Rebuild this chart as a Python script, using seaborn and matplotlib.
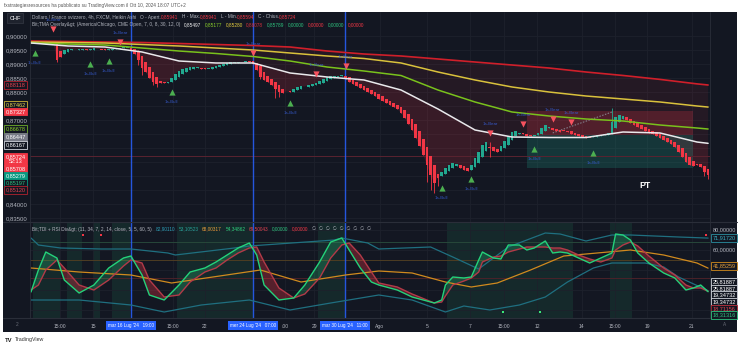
import numpy as np
import pandas as pd
import matplotlib
matplotlib.use("Agg")
import matplotlib.pyplot as plt
import matplotlib.transforms as mtransforms
from matplotlib.patches import Rectangle
from matplotlib.lines import Line2D
import seaborn as sns

# ------------------------------------------------------------------ data
ha_open0 = 0.89760
ha_close = [
    0.89750, 0.89786, 0.89804, 0.89821, 0.89839, 0.89804, 0.89786, 0.89143, 0.89250, 0.89500,
    0.89536, 0.89518, 0.89500, 0.89518, 0.89536, 0.89500, 0.89518, 0.89554, 0.89536, 0.89518,
    0.89500, 0.89518, 0.89536, 0.89571, 0.89589, 0.89607, 0.89589, 0.89500, 0.89357, 0.89143,
    0.88857, 0.88714, 0.88500, 0.88357, 0.88286, 0.88321, 0.88304, 0.88357, 0.88500, 0.88643,
    0.88750, 0.88821, 0.88857, 0.88875, 0.88893, 0.88875, 0.88839, 0.88821, 0.88839, 0.88893,
    0.88929, 0.88964, 0.89000, 0.89036, 0.89071, 0.89054, 0.89071, 0.89089, 0.89107, 0.89089,
    0.89000, 0.88786, 0.88536, 0.88429, 0.88357, 0.88250, 0.88107, 0.88000, 0.87982, 0.88018,
    0.88000, 0.88107, 0.88161, 0.88214, 0.88196, 0.88250, 0.88286, 0.88304, 0.88393, 0.88464,
    0.88518, 0.88554, 0.88571, 0.88589, 0.88607, 0.88464, 0.88357, 0.88286, 0.88214, 0.88143,
    0.88071, 0.88000, 0.87929, 0.87857, 0.87750, 0.87679, 0.87607, 0.87536, 0.87464, 0.87393,
    0.87250, 0.87071, 0.86857, 0.86643, 0.86357, 0.86071, 0.85750, 0.85393, 0.85036, 0.84750,
    0.84929, 0.85143, 0.85286, 0.85393, 0.85464, 0.85429, 0.85286, 0.85214, 0.85179, 0.85393,
    0.85643, 0.85857, 0.86107, 0.86214, 0.86000, 0.85893, 0.85857, 0.86071, 0.86250, 0.86429,
    0.86571, 0.86607, 0.86536, 0.86500, 0.86446, 0.86429, 0.86464, 0.86536, 0.86714, 0.86821,
    0.86750, 0.86643, 0.86607, 0.86589, 0.86607, 0.86571, 0.86500, 0.86464, 0.86429, 0.86393,
    0.86357, 0.86375, 0.86429, 0.86464, 0.86482, 0.86500, 0.86536, 0.86929, 0.87107, 0.87179,
    0.87143, 0.87000, 0.86893, 0.86821, 0.86750, 0.86679, 0.86607, 0.86536, 0.86500, 0.86429,
    0.86357, 0.86286, 0.86214, 0.86143, 0.86036, 0.85857, 0.85679, 0.85500, 0.85393, 0.85357,
    0.85393, 0.85321, 0.85143, 0.85036,
]
wick_idx = [7, 29, 30, 33, 34, 62, 66, 67, 107, 108, 109, 110, 124, 157, 182, 183]
wick_high = [0.89821, 0.89500, 0.89143, 0.88500, 0.88357, 0.89000, 0.88250, 0.88107,
             0.85750, 0.85393, 0.85036, 0.84929, 0.86214, 0.87429, 0.85321, 0.85143]
wick_low = [0.89071, 0.88964, 0.88607, 0.88250, 0.88179, 0.88464, 0.87786, 0.87821,
            0.84786, 0.84500, 0.84393, 0.84643, 0.85679, 0.86536, 0.85000, 0.84893]

tma_idx = [0, 10, 20, 30, 40, 50, 60, 70, 80, 90, 100, 110, 120, 130, 140, 150, 160, 170, 180, 183]
tma_red = [0.89821, 0.89804, 0.89786, 0.89768, 0.89732, 0.89696, 0.89661, 0.89607, 0.89464, 0.89357,
           0.89286, 0.89179, 0.89071, 0.88964, 0.88857, 0.88714, 0.88590, 0.88450, 0.88290, 0.88250]
tma_yellow = [0.89786, 0.89768, 0.89750, 0.89696, 0.89643, 0.89571, 0.89500, 0.89393, 0.89286, 0.89196,
              0.89036, 0.88714, 0.88429, 0.88179, 0.88000, 0.87857, 0.87750, 0.87643, 0.87500, 0.87462]
tma_green = [0.89750, 0.89714, 0.89679, 0.89571, 0.89464, 0.89375, 0.89268, 0.89107, 0.88893, 0.88750,
             0.88589, 0.88071, 0.87643, 0.87286, 0.87143, 0.87036, 0.86964, 0.86821, 0.86714, 0.86678]
tma_white = [0.89750, 0.89643, 0.89607, 0.89429, 0.89107, 0.89036, 0.89036, 0.88679, 0.88536, 0.88429,
             0.88071, 0.87393, 0.86643, 0.86393, 0.86375, 0.86375, 0.86571, 0.86536, 0.86214, 0.86167]

bull_idx = [1, 16, 21, 38, 70, 111, 119, 136, 152]
bull_price = [0.89393, 0.89000, 0.89107, 0.88000, 0.87607, 0.84571, 0.84893, 0.85964, 0.85821]
bear_idx = [6, 24, 60, 77, 85, 124, 133, 141, 146]
bear_price = [0.90250, 0.89786, 0.89393, 0.88643, 0.88929, 0.86536, 0.86857, 0.87036, 0.86929]

box_x0, box_x1 = 134, 179
box_top, box_entry, box_target = 0.87327, 0.86447, 0.85279
dash_idx = [141, 157]
dash_price = [0.86536, 0.87286]
pt_idx, pt_price = 166, 0.84650
last_price = 0.85724
marker_idx = [27.0, 60.0, 84.9]
marker_text = ["mar 16 Lug '24   19:00", "mer 24 Lug '24   07:00", "mar 30 Lug '24   11:00"]

price_ticks = [0.835, 0.84, 0.845, 0.85, 0.855, 0.86, 0.865, 0.87, 0.875, 0.88, 0.885, 0.89, 0.895, 0.90]
price_tick_labels = ["0,83500", "0,84000", "", "", "", "", "", "0,87000", "", "0,88000",
                     "0,88500", "0,89000", "0,89500", "0,90000"]
x_tick_pos = [7.8, 16.8, 38.4, 47.0, 68.6, 76.5, 94.3, 107.0, 118.6, 127.8, 136.8, 148.9, 157.8, 166.5, 178.6]
x_tick_labels = ["15:00", "15", "15:00", "22", ":00", "29", "Ago", "5", "7", "15:00", "12", "14",
                 "15:00", "19", "21"]

tdi_idx = [0, 2, 4, 7, 9, 13, 17, 21, 25, 27, 30, 32, 36, 40, 43, 47, 50, 53, 56, 59, 61, 63, 67, 71,
           74, 78, 81, 84, 86, 89, 92, 94, 99, 103, 109, 111, 112, 114, 117, 119, 121, 122, 125, 127,
           129, 132, 134, 136, 139, 141, 143, 145, 148, 151, 154, 157, 158, 160, 162, 164, 167, 171,
           174, 177, 179, 181, 183]
rsi_fast = [18, 40, 58, 52, 30, 17, 25, 42, 52, 54, 35, 15, 10, 25, 38, 42, 48, 55, 62, 67, 55, 25,
            10, 12, 25, 48, 68, 72, 60, 42, 28, 25, 20, 13, 7, 10, 25, 33, 32, 33, 50, 58, 52, 51,
            65, 65, 60, 62, 69, 57, 58, 57, 52, 47, 52, 57, 76, 75, 70, 57, 47, 37, 32, 20, 22, 25, 18.31]
rsi_signal = [20, 25, 40, 50, 42, 25, 20, 30, 44, 50, 47, 30, 13, 15, 28, 38, 42, 50, 57, 62, 63, 48,
              22, 12, 16, 32, 52, 65, 67, 55, 38, 27, 23, 16, 7, 8, 14, 25, 29, 32, 38, 48, 53, 54,
              58, 61, 63, 63, 63, 62, 62, 60, 55, 51, 48, 52, 60, 65, 68, 64, 54, 42, 35, 25, 22, 22, 18.71]
ub_idx = [0, 2, 8, 19, 27, 37, 39, 55, 59, 82, 84, 91, 94, 108, 114, 121, 129, 139, 143, 150, 157, 162, 175, 183]
upper_band = [72, 65, 62, 61, 61, 57, 55, 62, 64, 70, 72, 67, 61, 63, 53, 41, 63, 77, 76, 69, 75, 75, 73, 71.92]
lb_idx = [0, 13, 27, 36, 46, 59, 70, 81, 94, 103, 112, 117, 124, 132, 139, 145, 152, 157, 166, 171, 175, 183]
lower_band = [10, 10, 5, -2, 5, 10, 0, 7, 15, 10, -2, 4, 0, 5, 13, 28, 42, 47, 47, 43, 33, 19.35]
ob_idx = [0, 13, 27, 38, 51, 62, 73, 85, 94, 103, 112, 119, 126, 135, 144, 153, 162, 171, 180, 183]
base_line = [42, 38, 35, 27, 34, 40, 28, 35, 39, 37, 28, 23, 27, 40, 54, 57, 60, 55, 47, 41.85]
tdi_levels = [68, 50, 32]
zone_start = [0.5, 9.7, 16.8, 21.9, 39.5, 77.6, 112.4, 156.5]
zone_end = [7.8, 13.8, 18.6, 26.8, 60.0, 84.9, 146.5, 162.4]
red_dot_idx = [14, 19, 182.5]
red_dot_val = [75, 75, 75]
green_dot_idx = [127.6, 137.6]
green_dot_val = [-2, -2]

# ------------------------------------------------------------------ style
sns.set_theme(style="dark")
plt.rcParams['font.family'] = ['Liberation Sans', 'DejaVu Sans']

W, H = 743, 347
BG = '#131722'
GRID = '#1d212c'
SEP = '#2a2e39'
TXT = '#b2b5be'
UP = '#22a88f'
DN = '#f23645'
BLUE = '#2962ff'

fig = plt.figure(figsize=(W / 100, H / 100), dpi=100, facecolor='white')
renderer = fig.canvas.get_renderer()


def fx(p):
    return p / W


def fy(p):
    return 1 - p / H


fig.add_artist(Rectangle((fx(3), fy(332)), fx(737) - fx(3), fy(12) - fy(332),
                         transform=fig.transFigure, facecolor=BG, edgecolor='none', zorder=-10))

X0, X1 = 30, 710
ax = fig.add_axes([fx(X0), fy(222), (X1 - X0) / W, (222 - 12) / H])
ax2 = fig.add_axes([fx(X0), fy(318), (X1 - X0) / W, (318 - 222) / H], sharex=ax)
for a in (ax, ax2):
    a.set_facecolor(BG)
    for s in a.spines.values():
        s.set_visible(False)
    a.grid(True, color=GRID, lw=0.6)
    a.set_axisbelow(True)

ax.set_xlim(-1 / 3.7, (X1 - 31) / 3.7)
ax.set_ylim(0.833571, 0.908571)
ax2.set_ylim(-8, 88)

# ------------------------------------------------------------------ price pane
close = np.array(ha_close)
n = len(close)
idx = np.arange(n)
opens = np.empty(n)
opens[0] = ha_open0
for i in range(1, n):
    opens[i] = (opens[i - 1] + close[i - 1]) / 2
hi = np.maximum(opens, close)
lo = np.minimum(opens, close)
for k, h, l in zip(wick_idx, wick_high, wick_low):
    hi[k] = max(hi[k], h)
    lo[k] = min(lo[k], l)
up = close >= opens
cols = np.where(up, UP, DN)

# cloud fills
ax.fill(np.concatenate([tma_idx, idx[::-1]]), np.concatenate([tma_red, close[::-1]]),
        color='#f23645', alpha=0.08, lw=0, zorder=1)
ax.fill(np.concatenate([tma_idx, idx[::-1]]), np.concatenate([tma_white, close[::-1]]),
        color='#f23645', alpha=0.10, lw=0, zorder=1)

# trade boxes
ax.add_patch(Rectangle((box_x0, box_entry), box_x1 - box_x0, box_top - box_entry,
                       facecolor='#f23645', alpha=0.22, lw=0, zorder=2))
ax.add_patch(Rectangle((box_x0, box_target), box_x1 - box_x0, box_entry - box_target,
                       facecolor='#1fa58c', alpha=0.22, lw=0, zorder=2))
ax.plot(dash_idx, dash_price, ls=(0, (1.5, 1.5)), color='#8a8e99', lw=0.7, zorder=3)
ax.axhline(last_price, color='#5a2330', lw=0.7, zorder=2)

for v in marker_idx:
    ax.axvline(v, color=BLUE, lw=1.0, alpha=0.85, zorder=3)
    ax2.axvline(v, color=BLUE, lw=1.0, alpha=0.85, zorder=3)

ax.vlines(idx, lo, hi, colors=cols, lw=0.6, zorder=4)
body = np.maximum(np.abs(close - opens), 0.00028)
mid = (close + opens) / 2
ax.bar(idx, body, bottom=mid - body / 2, width=0.74, color=cols, lw=0, zorder=5)

tma_df = pd.DataFrame({'idx': tma_idx, 'red': tma_red, 'yellow': tma_yellow,
                       'green': tma_green, 'white': tma_white})
for name, color, lw in [('red', '#d01f2a', 1.2), ('yellow', '#d9c13c', 1.1),
                        ('green', '#79c11c', 1.1), ('white', '#e9e9ec', 1.1)]:
    sns.lineplot(data=tma_df, x='idx', y=name, ax=ax, color=color, lw=lw,
                 estimator=None, legend=False, zorder=6)

ax.scatter(bull_idx, bull_price, marker='^', s=20, color='#4caf50', lw=0, zorder=8)
ax.scatter(bear_idx, bear_price, marker='v', s=20, color='#f7525f', lw=0, zorder=8)
for i, p in zip(bull_idx, bull_price):
    ax.annotate('1s-Bull', (i, p), xytext=(0, -7), textcoords='offset points', ha='center',
                va='center', fontsize=3.2, color='#3558c8', zorder=8)
for i, p in zip(bear_idx, bear_price):
    ax.annotate('1s-Bear', (i, p), xytext=(0, 6.5), textcoords='offset points', ha='center',
                va='center', fontsize=3.2, color='#3558c8', zorder=8)
ax.text(pt_idx, pt_price, 'PT', color='white', fontsize=6.3, fontweight='bold',
        ha='center', va='center', zorder=8)

ax.set_xlabel('')
ax.set_ylabel('')
ax.set_yticks(price_ticks)
ax.set_yticklabels(price_tick_labels)
ax.tick_params(axis='y', labelsize=4.3, colors=TXT, length=0, pad=2)
ax.tick_params(axis='x', labelbottom=False, length=0)

# ------------------------------------------------------------------ TDI pane
for s, e in zip(zone_start, zone_end):
    ax2.axvspan(s, e, color='#1b4d3c', alpha=0.35, lw=0, zorder=0)
for lev, c in zip(tdi_levels, ['#27473a', '#4d3d22', '#4a2229']):
    ax2.axhline(lev, color=c, lw=0.7, zorder=1)

tdi_df = pd.DataFrame({'idx': tdi_idx, 'fast': rsi_fast, 'signal': rsi_signal})
f = np.array(rsi_fast, dtype=float)
g = np.array(rsi_signal, dtype=float)
ax2.fill_between(tdi_idx, f, g, where=f >= g, interpolate=True, color='#2bd47f', alpha=0.22, lw=0, zorder=2)
ax2.fill_between(tdi_idx, f, g, where=f < g, interpolate=True, color='#f23645', alpha=0.30, lw=0, zorder=2)

sns.lineplot(x=ub_idx, y=upper_band, ax=ax2, color='#1f6f80', lw=0.9, estimator=None, zorder=3)
sns.lineplot(x=lb_idx, y=lower_band, ax=ax2, color='#1f6f80', lw=0.9, estimator=None, zorder=3)
sns.lineplot(x=ob_idx, y=base_line, ax=ax2, color='#d08a1e', lw=0.9, estimator=None, zorder=3)
sns.lineplot(data=tdi_df, x='idx', y='signal', ax=ax2, color='#b23a48', lw=1.0, estimator=None, zorder=4)
sns.lineplot(data=tdi_df, x='idx', y='fast', ax=ax2, color='#24d27a', lw=1.0, estimator=None, zorder=5)
ax2.scatter(red_dot_idx, red_dot_val, marker='s', s=3, color='#f23645', lw=0, zorder=6)
ax2.scatter(green_dot_idx, green_dot_val, marker='s', s=3, color='#39e87a', lw=0, zorder=6)

ax2.set_xlabel('')
ax2.set_ylabel('')
ax2.set_yticks([0, 20, 40, 60, 80])
ax2.tick_params(axis='y', labelleft=False, length=0)
ax2.set_xticks(x_tick_pos)
ax2.set_xticklabels(x_tick_labels)
ax2.tick_params(axis='x', labelsize=3.6, colors=TXT, length=0, pad=4)

trans = mtransforms.blended_transform_factory(ax2.transData, ax2.transAxes)
for v, t in zip(marker_idx, marker_text):
    ax2.text(v, -0.075, t, transform=trans, ha='center', va='center', fontsize=3.3, color='white',
             bbox=dict(boxstyle='square,pad=0.45', fc=BLUE, ec='none'), zorder=20, clip_on=False)

# separators
for y in (222, 318):
    fig.add_artist(Line2D([fx(3), fx(737)], [fy(y), fy(y)], color=SEP, lw=0.8, transform=fig.transFigure))
fig.add_artist(Line2D([fx(30), fx(30)], [fy(12), fy(318)], color=SEP, lw=0.6, transform=fig.transFigure))
fig.add_artist(Line2D([fx(710), fx(710)], [fy(12), fy(318)], color=SEP, lw=0.6, transform=fig.transFigure))

# ------------------------------------------------------------------ texts
fs_h = 3.4


def header_line(segments, x_start, y):
    x = x_start
    for s, c, gap in segments:
        t = fig.text(fx(x), fy(y), s, fontsize=fs_h, color=c, va='center', zorder=12)
        bb = t.get_window_extent(renderer)
        x = x + bb.width + gap


fig.text(fx(4), fy(6), "fxstrategiesresources ha pubblicato su TradingView.com il Ott 10, 2024 18:07 UTC+2",
         fontsize=3.4, color='#555555', va='center')
fig.text(fx(15), fy(18), 'CHF', fontsize=4.0, color='white', ha='center', va='center',
         bbox=dict(boxstyle='square,pad=0.45', fc='#1e222d', ec='#363a45', lw=0.5))

header_line([("Dollaro / Franco svizzero, 4h, FXCM, Heikin Ashi", TXT, 4),
             ("O - Apert.", TXT, 0), ("0,85941", DN, 3.5), ("H - Max.", TXT, 0), ("0,85941", DN, 3.5),
             ("L - Min.", TXT, 0), ("0,85594", DN, 3.5), ("C - Chius.", TXT, 0), ("0,85724", DN, 0)],
            32, 17)
header_line([("Bit;TMA Overlay&gt; (America/Chicago, CME Open, 7, 0, 8, 30, 12, 0)", TXT, 3.5),
             ("0,85497", '#f0f0f0', 3.5), ("0,85177", '#8bd12a', 3.5), ("0,85280", '#e6cf3f', 3.5),
             ("0,86078", '#d8303c', 3.5), ("0,85789", '#2ec27e', 3.5), ("0,00000", '#2ec27e', 3.5),
             ("0,00000", DN, 3.5), ("0,00000", '#2ec27e', 3.5), ("0,00000", DN, 0)],
            32, 24.5)
header_line([("Bit;TDI + RSI Div&gt; (11, 34, 7, 2, 14, close, 5, 5, 60, 5)", TXT, 4),
             ("82,90110", '#2a9fb8', 3.5), ("53,10523", '#26a69a', 3.5), ("68,00317", '#e8a13a', 3.5),
             ("54,34862", '#2ed47f', 3.5), ("69,50043", '#e0404f', 3.5), ("0,00000", '#2ec27e', 3.5),
             ("0,00000", DN, 4),
             ("\u2205  \u2205  \u2205  \u2205  \u2205  \u2205  \u2205  \u2205  \u2205", TXT, 0)],
            32, 229)

left_labels = [("0,88118", 85, BG, '#b0222e', '#e8404e'),
               ("0,87462", 105, BG, '#c9b437', '#e8d44d'),
               ("0,87327", 111.5, DN, DN, 'white'),
               ("0,86678", 129, BG, '#6fae2a', '#8bd12a'),
               ("0,86447", 137, '#787b86', '#787b86', 'white'),
               ("0,86167", 145, BG, '#d1d4dc', 'white'),
               ("0,85724\n52:13", 159.5, DN, DN, 'white'),
               ("0,85708", 169, DN, DN, 'white'),
               ("0,85279", 176, '#089981', '#089981', 'white'),
               ("0,85197", 183, BG, '#089981', '#2ec27e'),
               ("0,85120", 190, BG, '#b0222e', '#e8404e')]
for t, y, fc, ec, tc in left_labels:
    fig.text(fx(15.5), fy(y), t, fontsize=4.0, color=tc, ha='center', va='center', linespacing=1.0,
             bbox=dict(boxstyle='square,pad=0.22', fc=fc, ec=ec, lw=0.6), zorder=10)

right_labels = [("80,00000", 230, None, None, TXT),
                ("71,91720", 238, BG, '#2a8fa0', '#3bb0c4'),
                ("60,00000", 250, None, None, TXT),
                ("41,85259", 266, BG, '#d08a1e', '#e8a13a'),
                ("25,81887", 282, BG, '#d1d4dc', 'white'),
                ("25,81887", 288.5, BG, '#d1d4dc', 'white'),
                ("19,34732", 295, BG, '#d1d4dc', 'white'),
                ("19,34732", 301.5, BG, '#d1d4dc', 'white'),
                ("18,71156", 308.5, BG, '#b0222e', '#e8404e'),
                ("18,31316", 315, BG, '#2ec27e', '#2ec27e')]
for t, y, fc, ec, tc in right_labels:
    kw = {}
    if fc is not None:
        kw['bbox'] = dict(boxstyle='square,pad=0.22', fc=fc, ec=ec, lw=0.6)
    fig.text(fx(724), fy(y), t, fontsize=4.0, color=tc, ha='center', va='center', zorder=10, **kw)

fig.text(fx(17), fy(325), '2', fontsize=3.4, color='#6a6d78', ha='center', va='center')
fig.text(fx(725), fy(325), 'A', fontsize=3.4, color='#6a6d78', ha='center', va='center')
fig.text(fx(5), fy(340), 'TV', fontsize=4.2, color='#222222', fontweight='bold', va='center')
fig.text(fx(15), fy(340), 'TradingView', fontsize=3.8, color='#333333', va='center')

fig.savefig('out.png', dpi=100, facecolor=fig.get_facecolor())
